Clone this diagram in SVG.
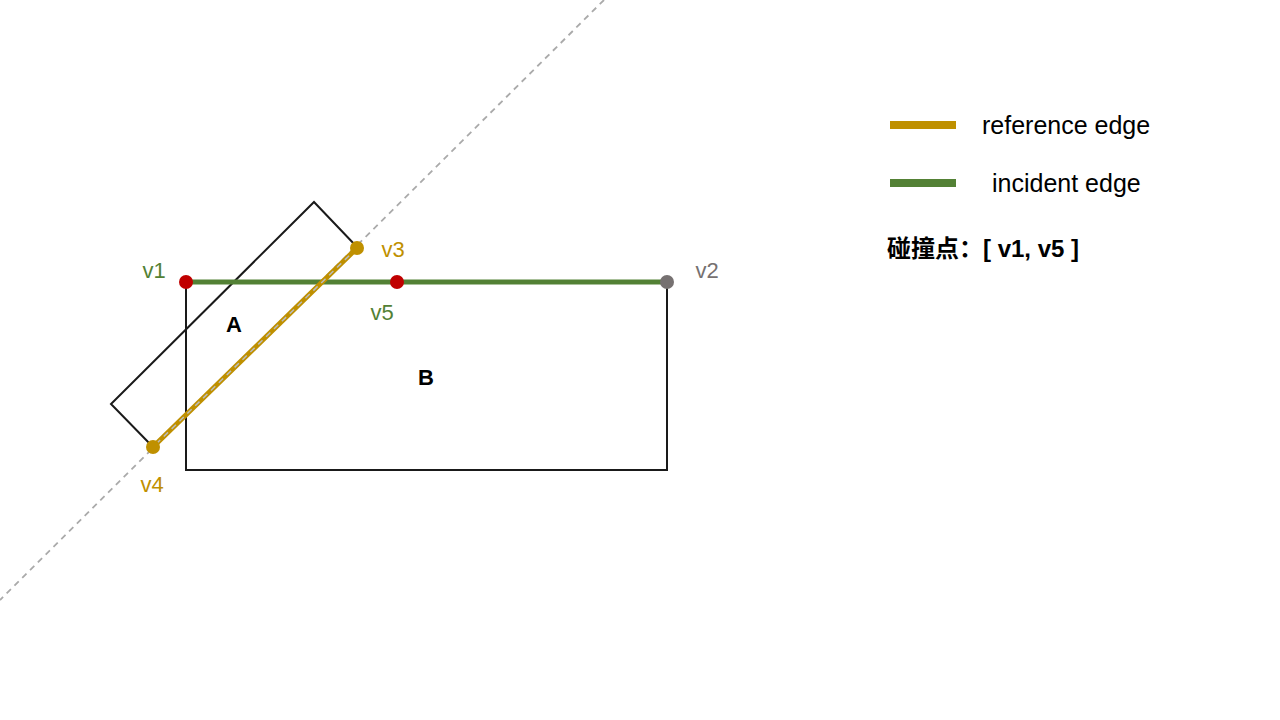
<svg xmlns="http://www.w3.org/2000/svg" width="1280" height="720" viewBox="0 0 1280 720">
<style>
.shape{fill:none;stroke:#1a1a1a;stroke-width:2}
.lbl{font-family:"Liberation Sans",Arial,sans-serif;font-size:22px}
.leg{font-family:"Liberation Sans",Arial,sans-serif;font-size:25px;fill:#000}
.bold{font-weight:bold;fill:#000}
.gold{fill:#BF9000}
.green{fill:#538135}
.gray{fill:#767171}
</style>
<rect width="1280" height="720" fill="#fff"/>
<g id="guide">
<line x1="604" y1="0" x2="0" y2="600" stroke="#AAAAAA" stroke-width="1.8" stroke-dasharray="6,5"/>
</g>
<g id="rectB">
<rect class="shape" x="186" y="282" width="481" height="188"/>
<text class="lbl bold" x="426" y="385" text-anchor="middle">B</text>
</g>
<g id="rectA">
<polyline class="shape" points="357,247 314,202 111,404 153,447"/>
<text class="lbl bold" x="234" y="332" text-anchor="middle">A</text>
</g>
<g id="connectors">
<line x1="186" y1="282" x2="667" y2="282" stroke="#538135" stroke-width="5"/>
<line x1="357" y1="248" x2="153" y2="447" stroke="#BF9000" stroke-width="5" stroke-linecap="round"/>
<line x1="357" y1="248" x2="153" y2="447" stroke="#BBBBBB" stroke-width="1.5" stroke-dasharray="6,5"/>
</g>
<g id="v1">
<circle cx="186" cy="282" r="7" fill="#C00000"/>
<text class="lbl green" x="154" y="278" text-anchor="middle">v1</text>
</g>
<g id="v5">
<circle cx="397" cy="282" r="7" fill="#C00000"/>
<text class="lbl green" x="382" y="320" text-anchor="middle">v5</text>
</g>
<g id="v2">
<circle cx="667" cy="282" r="7" fill="#767171"/>
<text class="lbl gray" x="707" y="278" text-anchor="middle">v2</text>
</g>
<g id="v3">
<circle cx="357" cy="248" r="7" fill="#BF9000"/>
<text class="lbl gold" x="393" y="257" text-anchor="middle">v3</text>
</g>
<g id="v4">
<circle cx="153" cy="447" r="7" fill="#BF9000"/>
<text class="lbl gold" x="152" y="492" text-anchor="middle">v4</text>
</g>
<g id="legend">
<line x1="890" y1="125" x2="956" y2="125" stroke="#BF9000" stroke-width="8"/>
<text class="leg" x="982" y="134">reference edge</text>
<line x1="890" y1="183" x2="956" y2="183" stroke="#538135" stroke-width="8"/>
<text class="leg" x="992" y="192">incident edge</text>
<text x="887" y="257" fill="#000" style="font-family:'Liberation Sans','Noto Sans CJK SC',sans-serif;font-size:24px;font-weight:bold">碰撞点：[ v1, v5 ]</text>
</g>
</svg>
